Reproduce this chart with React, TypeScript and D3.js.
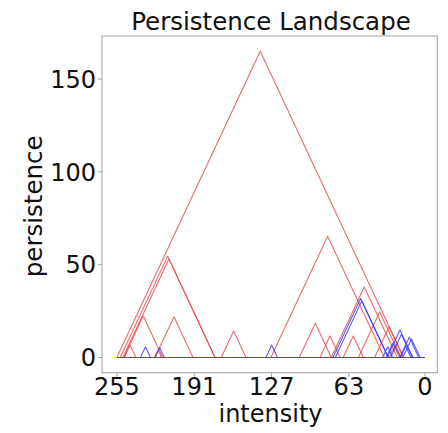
import React from "react";
import * as d3 from "d3";

// Tent functions of the persistence landscape: centre intensity and peak height
const redCenters = [136.4, 213, 212, 233.2, 207.8, 244.2, 221, 158.4, 80.6, 90.8, 78.6, 50.3, 59.4, 37.5, 29.8, 24.8];
const redHeights = [165, 54.6, 53, 22.3, 21.9, 6.7, 4, 14.3, 65.3, 18.4, 11.6, 38, 11.6, 24.5, 16.5, 6.7];
const blueCenters = [231.4, 219.7, 126.9, 53.3, 52.3, 20.7, 19.5, 13, 11.2, 26.5, 30.9, 16];
const blueHeights = [5.8, 5.4, 6.7, 31.8, 30.5, 14.8, 12.5, 10.9, 10, 7.8, 5.8, 6];
const xTicks = [255, 191, 127, 63, 0];
const yTicks = [0, 50, 100, 150];
const SLOPE = 1.39; // height per unit of intensity

const W = 448, H = 433;
const left = 102, right = 437.3, top = 36, bottom = 372.7;

export default function App() {
  const x = d3.scaleLinear().domain([267.4, -10.2]).range([left, right]);
  const y = d3.scaleLinear().domain([-8.2, 173.2]).range([bottom, top]);
  const line = d3.line<[number, number]>().x((d) => x(d[0])).y((d) => y(d[1]));

  const tent = (c: number, h: number): [number, number][] => {
    const hw = h / SLOPE;
    return [[c + hw, 0], [c, h], [c - hw, 0]];
  };
  const base: [number, number][] = [[255, 0], [0, 0]];
  const font = "DejaVu Sans, sans-serif";
  const red = "#e8474a";
  const blue = "#3535f5";

  return (
    <svg width={W} height={H} style={{ position: "fixed", left: 0, top: 0, background: "#fff" }} fontFamily={font}>
      <rect x={left} y={top} width={right - left} height={bottom - top} fill="none" stroke="#a0a0a0" strokeWidth={1} />
      <g fill="none" strokeWidth={1.1} strokeLinejoin="round">
        <path d={line(base)!} stroke={red} strokeOpacity={0.8} />
        {redCenters.map((c, i) => (
          <path key={"r" + i} d={line(tent(c, redHeights[i]))!} stroke={red} strokeOpacity={0.8} />
        ))}
        {blueCenters.map((c, i) => (
          <path key={"b" + i} d={line(tent(c, blueHeights[i]))!} stroke={blue} strokeOpacity={0.8} />
        ))}
        <path d={line(base)!} stroke={blue} strokeOpacity={0.85} />
      </g>
      {xTicks.map((t) => (
        <g key={"x" + t}>
          <line x1={x(t)} x2={x(t)} y1={bottom} y2={bottom + 4} stroke="#a0a0a0" />
          <text x={x(t)} y={395} textAnchor="middle" fontSize={24} fill="#111">{t}</text>
        </g>
      ))}
      {yTicks.map((t) => (
        <g key={"y" + t}>
          <line x1={left - 4} x2={left} y1={y(t)} y2={y(t)} stroke="#a0a0a0" />
          <text x={96} y={y(t)} dy="0.36em" textAnchor="end" fontSize={24} fill="#111">{t}</text>
        </g>
      ))}
      <text x={270.5} y={422} textAnchor="middle" fontSize={24} fill="#111">intensity</text>
      <text transform={`translate(42,${(top + bottom) / 2 + 2}) rotate(-90)`} textAnchor="middle" fontSize={24.5} fill="#111">persistence</text>
      <text x={271} y={30} textAnchor="middle" fontSize={24.5} fill="#111">Persistence Landscape</text>
    </svg>
  );
}
